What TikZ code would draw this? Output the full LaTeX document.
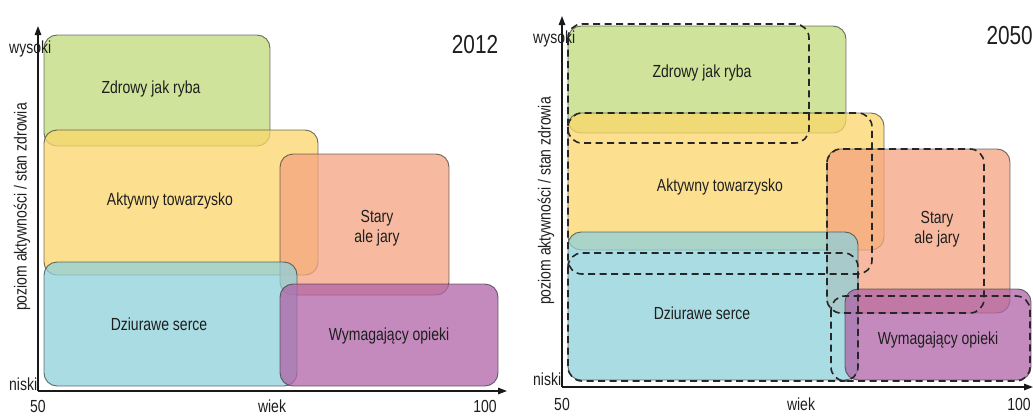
\documentclass[tikz,border=0pt]{standalone}
\usepackage{fontspec}
\setmainfont[FakeStretch=0.8]{Liberation Sans}
\usetikzlibrary{arrows.meta}
\definecolor{cgreen}{RGB}{191,219,120}
\definecolor{cyellow}{RGB}{252,214,106}
\definecolor{cred}{RGB}{244,163,128}
\definecolor{cblue}{RGB}{142,208,218}
\definecolor{cpurple}{RGB}{176,99,167}
\definecolor{ctext}{RGB}{30,30,30}
\begin{document}
\begin{tikzpicture}[x=1pt,y=-1pt,
  box/.style={rounded corners=13pt, draw=black!80, draw opacity=0.7, line width=0.9pt, fill opacity=0.75},
  dbox/.style={rounded corners=14pt, draw=black!85, line width=1.6pt, dash pattern=on 7pt off 4.5pt},
  lbl/.style={font=\fontsize{17.5}{20}\selectfont, text=ctext, align=center, inner sep=0pt},
  small/.style={font=\fontsize{17.5}{20}\selectfont, text=ctext, inner sep=0pt},
  year/.style={font=\fontsize{26}{28}\selectfont, text=ctext, inner sep=0pt},
  axis/.style={line width=1.3pt, draw=black!90, -{Triangle[length=9pt,width=6.5pt]}}]
\useasboundingbox (0,0) rectangle (1033,415);

% ---------------- left panel (2012) ----------------
\path[box, fill=cgreen]  (44,35) rectangle (270,146);
\path[box, fill=cyellow] (44,130) rectangle (318,275);
\path[box, fill=cred]    (280,154) rectangle (449,295);
\path[box, fill=cblue]   (44,262) rectangle (297,386);
\path[box, fill=cpurple] (280,284) rectangle (498,386);

\node[lbl] (l1) at (151,89) {Zdrowy jak ryba};
\node[lbl] (l2) at (170,201) {Aktywny towarzysko};
\node[lbl] (l3) at (377,228) {Stary\\ale jary};
\node[lbl] (l4) at (159,324) {Dziurawe serce};
\node[lbl] (l5) at (389,336) {Wymagający opieki};

\node[year] (y1) at (475,45) {2012};
\node[small, anchor=west] (hi1) at (9,49) {wysoki};
\node[small, anchor=west] (lo1) at (9,384) {niski};
\node[small] (a1) at (38,406) {50};
\node[small] (w1) at (272,406) {wiek};
\node[small] (c1) at (485,406) {100};
\node[small, rotate=90] (yl1) at (22,207) {poziom aktywności / stan zdrowia};

\coordinate (o1) at (38,391);
\coordinate (yt1) at (38,26);
\coordinate (xt1) at (507,391);
\draw[axis] (o1) -- (yt1);
\draw[axis] (o1) -- (xt1);

% ---------------- right panel (2050) ----------------
\path[box, fill=cgreen]  (568,26) rectangle (846,133);
\path[box, fill=cyellow] (568,113) rectangle (884,250);
\path[box, fill=cred]    (827,149) rectangle (1010,313);
\path[box, fill=cblue]   (568,232) rectangle (858,380);
\path[box, fill=cpurple] (845,289) rectangle (1031,380);

\draw[dbox] (568,24) rectangle (809,143);
\draw[dbox] (568,113) rectangle (872,274);
\draw[dbox] (827,149) rectangle (984,313);
\draw[dbox] (568,253) rectangle (858,381);
\draw[dbox] (831,296) rectangle (1030,381);

\node[lbl] (r1) at (702,73) {Zdrowy jak ryba};
\node[lbl] (r2) at (720,187) {Aktywny towarzysko};
\node[lbl] (r3) at (937,229) {Stary\\ale jary};
\node[lbl] (r4) at (702,313) {Dziurawe serce};
\node[lbl] (r5) at (938,340) {Wymagający opieki};

\node[year, anchor=east] (y2) at (1033,36) {2050};
\node[small, anchor=west] (hi2) at (533,39) {wysoki};
\node[small, anchor=west] (lo2) at (533,379) {niski};
\node[small] (a2) at (562,404) {50};
\node[small] (w2) at (801,404) {wiek};
\node[small] (c2) at (1019,404) {100};
\node[small, rotate=90] (yl2) at (546,201) {poziom aktywności / stan zdrowia};

\coordinate (o2) at (562,387);
\coordinate (yt2) at (562,16);
\coordinate (xt2) at (1033,387);
\draw[axis] (o2) -- (yt2);
\draw[axis] (o2) -- (xt2);
\end{tikzpicture}
\end{document}
